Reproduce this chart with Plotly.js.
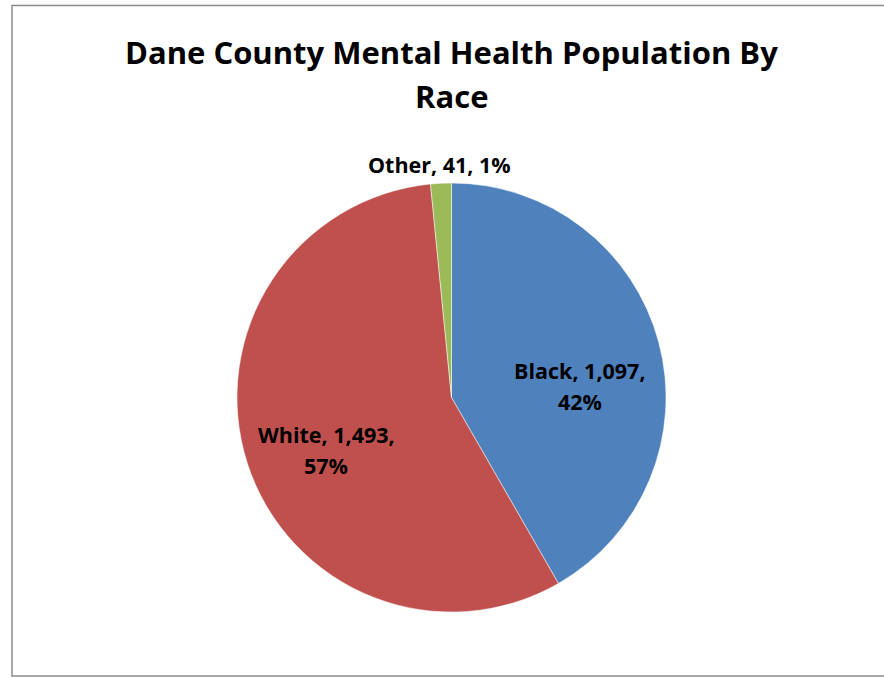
<!DOCTYPE html>
<html>
<head>
<meta charset="utf-8">
<script src="https://cdn.plot.ly/plotly-3.0.1.min.js"></script>
<style>
html,body{margin:0;padding:0;background:#fff;}
#chart{width:884px;height:677px;}
</style>
</head>
<body>
<div id="chart"></div>
<script>
const categories = ['Black', 'White', 'Other'];
const counts = [1097, 1493, 41];
const percentLabels = ['42%', '57%', '1%'];
const sliceColors = ['#4F81BD', '#C0504D', '#9BBB59'];
const titleLines = ['Dane County Mental Health Population By', 'Race'];

const W = 884, H = 677;
const fmt = n => n.toLocaleString('en-US');

// label lines: [category index, pixel x, pixel y, text]
const labelLines = [
  [0, 580, 370, i => `${categories[i]}, ${fmt(counts[i])},`],
  [0, 580, 401, i => percentLabels[i]],
  [1, 326, 434, i => `${categories[i]}, ${fmt(counts[i])},`],
  [1, 326, 465, i => percentLabels[i]],
  [2, 439, 165, i => `${categories[i]}, ${fmt(counts[i])}, ${percentLabels[i]}`]
];

const annotations = labelLines.map(([i, x, y, f]) => ({
  xref: 'paper', yref: 'paper',
  x: x / W, y: 1 - y / H,
  xanchor: 'center', yanchor: 'middle',
  text: '<b>' + f(i) + '</b>',
  showarrow: false,
  font: {family: 'Open Sans, sans-serif', size: 21.5, color: '#000'}
}));

const titleY = [52, 96];
titleLines.forEach((t, k) => annotations.push({
  xref: 'paper', yref: 'paper',
  x: 451.5 / W, y: 1 - titleY[k] / H,
  xanchor: 'center', yanchor: 'middle',
  text: '<b>' + t + '</b>',
  showarrow: false,
  font: {family: 'Open Sans, sans-serif', size: 31, color: '#000'}
}));

const cx = 451.5, cy = 397.5, r = 214.5;

const data = [{
  type: 'pie',
  values: counts,
  labels: categories,
  marker: {colors: sliceColors, line: {color: '#ffffff', width: 0.5}},
  sort: false,
  direction: 'clockwise',
  rotation: 0,
  textinfo: 'none',
  hoverinfo: 'label+value+percent',
  domain: {x: [(cx - r) / W, (cx + r) / W], y: [1 - (cy + r) / H, 1 - (cy - r) / H]},
  showlegend: false
}];

const layout = {
  width: W, height: H,
  margin: {l: 0, r: 0, t: 0, b: 0},
  paper_bgcolor: '#ffffff',
  showlegend: false,
  annotations: annotations,
  shapes: [{
    type: 'rect', xref: 'paper', yref: 'paper',
    x0: 12 / W, x1: 1.05, y0: 1 - 676 / H, y1: 1 - 5.5 / H,
    line: {color: '#8c8c8c', width: 1.5},
    fillcolor: 'rgba(0,0,0,0)'
  }]
};

Plotly.newPlot('chart', data, layout, {displayModeBar: false, staticPlot: true});
</script>
</body>
</html>
